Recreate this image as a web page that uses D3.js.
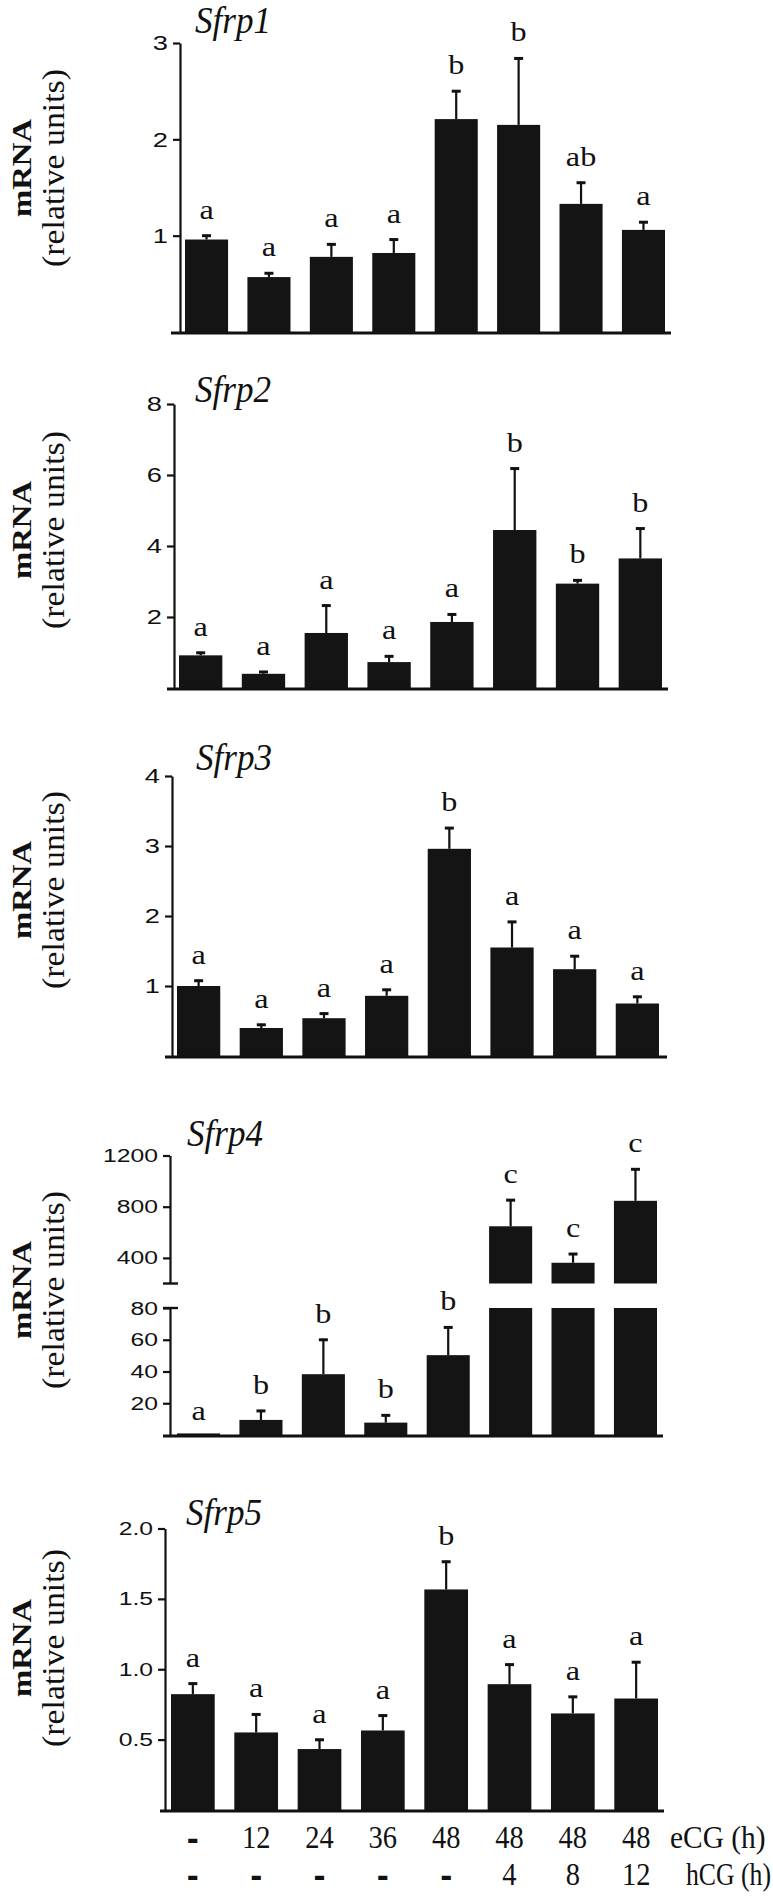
<!DOCTYPE html>
<html><head><meta charset="utf-8">
<script src="https://cdn.jsdelivr.net/npm/d3@7"></script>
<style>body{margin:0;background:#fff} svg{display:block}</style>
</head><body>
<script>
// ---------- data ----------
const categories = ["-/-","12/-","24/-","36/-","48/-","48/4","48/8","48/12"];
const ecgLabels = ["-","12","24","36","48","48","48","48"];
const hcgLabels = ["-","-","-","-","-","4","8","12"];

const sfrp1Mean = [0.96,0.57,0.78,0.82,2.21,2.15,1.33,1.06];
const sfrp1Err  = [0.05,0.05,0.14,0.15,0.30,0.70,0.23,0.09];
const sfrp1Sig  = ["a","a","a","a","b","b","ab","a"];
const sfrp1Ticks = [1,2,3];

const sfrp2Mean = [0.92,0.40,1.55,0.73,1.86,4.45,2.94,3.65];
const sfrp2Err  = [0.10,0.08,0.80,0.19,0.24,1.76,0.12,0.87];
const sfrp2Sig  = ["a","a","a","a","a","b","b","b"];
const sfrp2Ticks = [2,4,6,8];

const sfrp3Mean = [1.00,0.40,0.54,0.86,2.96,1.55,1.24,0.75];
const sfrp3Err  = [0.09,0.06,0.08,0.10,0.31,0.38,0.20,0.11];
const sfrp3Sig  = ["a","a","a","a","b","a","a","a"];
const sfrp3Ticks = [1,2,3,4];

const sfrp4Mean = [1,9.5,38.3,7.8,50.3,647,362,846];
const sfrp4Err  = [0,6.3,22.3,5.2,18.1,212,76,254];
const sfrp4Sig  = ["a","b","b","b","b","c","c","c"];
const sfrp4LowTicks = [20,40,60,80];
const sfrp4HighTicks = [400,800,1200];

const sfrp5Mean = [0.823,0.551,0.433,0.565,1.567,0.894,0.686,0.792];
const sfrp5Err  = [0.082,0.135,0.073,0.113,0.204,0.146,0.125,0.265];
const sfrp5Sig  = ["a","a","a","a","b","a","a","a"];
const sfrp5Ticks = [0.5,1.0,1.5,2.0];

// ---------- setup ----------
const W = 773, H = 1903;
const svg = d3.select("body").append("svg").attr("width", W).attr("height", H);
const serif = "'Liberation Serif','Times New Roman',Times,serif";
const sans = "'Liberation Sans',Arial,Helvetica,sans-serif";
const barColor = "#141414";
const ink = "#111";

const panels = [
  {name:"Sfrp1", mean:sfrp1Mean, err:sfrp1Err, sig:sfrp1Sig, ticks:sfrp1Ticks, domain:[0,3],
   ax:180, base:332, top:43, L:185, R:665, xa:[171,671], title:[195,33], labelY:168, tf:21, fmt:d3.format("d")},
  {name:"Sfrp2", mean:sfrp2Mean, err:sfrp2Err, sig:sfrp2Sig, ticks:sfrp2Ticks, domain:[0,8],
   ax:174, base:688, top:404, L:179, R:662, xa:[167,668], title:[195,402], labelY:530, tf:21, fmt:d3.format("d")},
  {name:"Sfrp3", mean:sfrp3Mean, err:sfrp3Err, sig:sfrp3Sig, ticks:sfrp3Ticks, domain:[0,4],
   ax:172, base:1056, top:776, L:177, R:659, xa:[165,667], title:[196,770], labelY:890, tf:21, fmt:d3.format("d")},
  {name:"Sfrp4", mean:sfrp4Mean, err:sfrp4Err, sig:sfrp4Sig, broken:true,
   ax:170, base:1435, lowTop:1308, highBase:1283.5, top:1155.5, L:177, R:657, xa:[163,663], title:[187,1146], labelY:1290, tf:19, fmt:d3.format("d")},
  {name:"Sfrp5", mean:sfrp5Mean, err:sfrp5Err, sig:sfrp5Sig, ticks:sfrp5Ticks, domain:[0,2],
   ax:165, base:1810, top:1528.5, L:171, R:658, xa:[160,664], title:[186,1525], labelY:1648, tf:19, fmt:d3.format(".1f")}
];

const TSX = 1.3; // horizontal stretch of tick labels

function styleAxis(ag, fs){
  ag.attr("font-family", sans).attr("font-size", fs);
  ag.select(".domain").attr("stroke", ink).attr("stroke-width", 2.2);
  ag.selectAll(".tick line").attr("stroke", ink).attr("stroke-width", 2.2);
  ag.selectAll(".tick text").each(function(){
    d3.select(this).attr("fill", ink).attr("x", 0).attr("y", 0)
     .attr("text-anchor", "end")
     .attr("transform", `translate(-12,0) scale(${TSX},1)`);
  });
}

function errBar(g, cx, y0, y1){
  g.append("line").attr("x1", cx).attr("x2", cx).attr("y1", y0).attr("y2", y1)
    .attr("stroke", ink).attr("stroke-width", 2.2);
  g.append("line").attr("x1", cx - 4.5).attr("x2", cx + 4.5).attr("y1", y1 + 1).attr("y2", y1 + 1)
    .attr("stroke", ink).attr("stroke-width", 3);
}

function sigLetter(g, cx, yTop, s){
  g.append("text").attr("transform", `translate(${cx},${yTop - 16}) scale(1.15,1)`)
    .attr("text-anchor", "middle").attr("font-family", serif).attr("font-size", 28)
    .attr("fill", ink).text(s);
}

function stretchedRotated(g, x, y, txt, fs, weight, target){
  const t = g.append("text").attr("text-anchor", "middle").attr("font-family", serif)
    .attr("font-weight", weight).attr("font-size", fs).attr("fill", ink).text(txt);
  const len = t.node().getComputedTextLength();
  t.attr("transform", `translate(${x},${y}) rotate(-90) scale(${target / (len || target)},1)`);
}

function yLabel(p){
  const g = svg.append("g");
  stretchedRotated(g, 31, p.labelY, "mRNA", 27, "bold", 98);
  stretchedRotated(g, 64, p.labelY, "(relative units)", 31, "normal", 198);
}

function drawPanel(p){
  const g = svg.append("g");
  const x = d3.scaleBand().domain(categories).range([p.L, p.R]).paddingInner(0.31).paddingOuter(0);
  const cx = i => x(categories[i]) + x.bandwidth() / 2;

  if (!p.broken) {
    const y = d3.scaleLinear().domain(p.domain).range([p.base, p.top]);
    g.selectAll("rect.bar").data(p.mean).join("rect").attr("class", "bar")
      .attr("x", (d, i) => x(categories[i])).attr("width", x.bandwidth())
      .attr("y", d => y(d)).attr("height", d => p.base - y(d)).attr("fill", barColor);
    p.mean.forEach((m, i) => {
      const yt = y(m + p.err[i]);
      if (p.err[i] > 0) errBar(g, cx(i), y(m), yt);
      sigLetter(g, cx(i), yt, p.sig[i]);
    });
    const ag = g.append("g").attr("transform", `translate(${p.ax},0)`)
      .call(d3.axisLeft(y).tickValues(p.ticks).tickSize(7).tickSizeOuter(0).tickPadding(5).tickFormat(p.fmt));
    styleAxis(ag, p.tf);
  } else {
    const yLow = d3.scaleLinear().domain([0, 80]).range([p.base, p.lowTop]);
    const yHigh = d3.scaleLinear().domain([200, 1200]).range([p.highBase, p.top]);
    p.mean.forEach((m, i) => {
      const bx = x(categories[i]);
      if (m <= 80) {
        g.append("rect").attr("x", bx).attr("width", x.bandwidth())
          .attr("y", yLow(m)).attr("height", p.base - yLow(m)).attr("fill", barColor);
        const yt = yLow(m + p.err[i]);
        if (p.err[i] > 0) errBar(g, cx(i), yLow(m), yt);
        sigLetter(g, cx(i), Math.min(yt, p.base - 7) + (p.err[i] > 0 ? 0 : 8), p.sig[i]);
      } else {
        g.append("rect").attr("x", bx).attr("width", x.bandwidth())
          .attr("y", yLow(80)).attr("height", p.base - yLow(80)).attr("fill", barColor);
        g.append("rect").attr("x", bx).attr("width", x.bandwidth())
          .attr("y", yHigh(m)).attr("height", p.highBase - yHigh(m)).attr("fill", barColor);
        const yt = yHigh(m + p.err[i]);
        errBar(g, cx(i), yHigh(m), yt);
        sigLetter(g, cx(i), yt, p.sig[i]);
      }
    });
    const agL = g.append("g").attr("transform", `translate(${p.ax},0)`)
      .call(d3.axisLeft(yLow).tickValues(sfrp4LowTicks).tickSize(7).tickSizeOuter(0).tickPadding(5).tickFormat(p.fmt));
    styleAxis(agL, p.tf);
    const agH = g.append("g").attr("transform", `translate(${p.ax},0)`)
      .call(d3.axisLeft(yHigh).tickValues(sfrp4HighTicks).tickSize(7).tickSizeOuter(0).tickPadding(5).tickFormat(p.fmt));
    styleAxis(agH, p.tf);
    // axis-break caps
    [yLow(80), yHigh(200)].forEach(yy => {
      g.append("line").attr("x1", p.ax - 7).attr("x2", p.ax + 8).attr("y1", yy).attr("y2", yy)
        .attr("stroke", ink).attr("stroke-width", 2.4);
    });
  }
  // x axis line
  g.append("line").attr("x1", p.xa[0]).attr("x2", p.xa[1]).attr("y1", p.base + 1).attr("y2", p.base + 1)
    .attr("stroke", ink).attr("stroke-width", 3);
  // title
  g.append("text").attr("transform", `translate(${p.title[0]},${p.title[1]}) scale(0.95,1)`)
    .attr("font-family", serif).attr("font-style", "italic").attr("font-size", 37)
    .attr("fill", ink).text(p.name);
  yLabel(p);
  return x;
}

let lastX;
panels.forEach(p => { lastX = drawPanel(p); });

// x category labels under last panel
const xl = svg.append("g").attr("font-family", serif).attr("font-size", 31).attr("fill", ink);
function rowLabels(labels, yy, tail, tailX){
  labels.forEach((s, i) => {
    const t = xl.append("text")
      .attr("transform", `translate(${lastX(categories[i]) + lastX.bandwidth() / 2},${yy}) scale(0.92,1)`)
      .attr("text-anchor", "middle").text(s);
    if (s === "-") t.attr("stroke", ink).attr("stroke-width", 1.8);
  });
  const t = xl.append("text").text(tail);
  const len = t.node().getComputedTextLength() || 100;
  const avail = 771 - tailX;
  const s = Math.min(0.95, avail / len);
  t.attr("transform", `translate(${tailX},${yy}) scale(${s},1)`);
}
rowLabels(ecgLabels, 1848, "eCG (h)", 670);
rowLabels(hcgLabels, 1885, "hCG (h)", 686);
</script>
</body></html>
